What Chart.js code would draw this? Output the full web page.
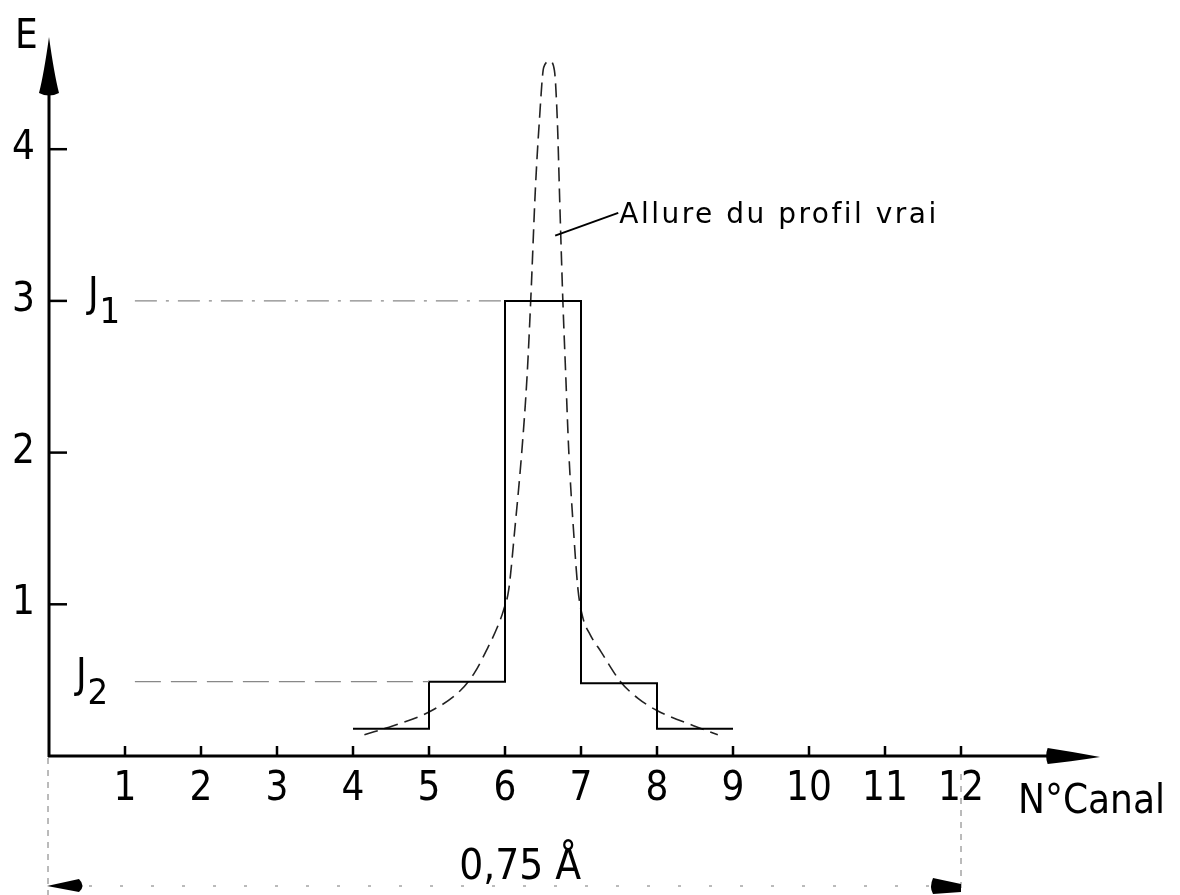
<!DOCTYPE html>
<html>
<head>
<meta charset="utf-8">
<script src="https://cdn.jsdelivr.net/npm/chart.js@4/dist/chart.umd.min.js"></script>
<style>
  html, body { margin: 0; padding: 0; background: #fff; }
  #wrap { width: 1180px; height: 895px; }
</style>
</head>
<body>
<div id="wrap"><canvas id="chart" width="1180" height="895"></canvas></div>
<script>
// axis ticks
const xTicks = [1, 2, 3, 4, 5, 6, 7, 8, 9, 10, 11, 12];
const yTicks = [1, 2, 3, 4];

// measured histogram (channel edges and heights)
const binEdges = [4, 5, 6, 7, 8, 9];
const binHeights = [0.18, 0.49, 3.0, 0.48, 0.18];

// "true" profile
const profileX = [4.15, 4.53, 5.0, 5.41, 5.6, 5.77, 5.9, 5.98, 6.05, 6.13, 6.22, 6.29, 6.34, 6.40, 6.45, 6.51,
  6.59, 6.65, 6.69, 6.72, 6.76, 6.80, 6.84, 6.90, 6.96, 7.02, 7.12, 7.26, 7.52, 7.75, 8.0, 8.48, 8.8];
const profileY = [0.14, 0.20, 0.29, 0.43, 0.55, 0.71, 0.85, 0.96, 1.1, 1.5, 2.0, 2.5, 3.02, 3.74, 4.17, 4.54,
  4.58, 4.52, 4.17, 3.66, 3.02, 2.5, 2.0, 1.5, 1.1, 0.92, 0.80, 0.69, 0.49, 0.38, 0.30, 0.20, 0.14];

// J levels
const levelNames = ['1', '2'];
const levelValues = [3.0, 0.49];
const levelStart = 1.13;
const levelEnds = [6, 5];

const FONT = '"DejaVu Sans Condensed", "DejaVu Sans", sans-serif';

const histData = binEdges.map((e, i) => ({ x: e, y: binHeights[Math.min(i, binHeights.length - 1)] }));
const profileData = profileX.map((v, i) => ({ x: v, y: profileY[i] }));

const drawing = {
  id: 'drawing',
  beforeDatasetsDraw(chart) {
    const { ctx } = chart;
    const x = chart.scales.x;
    const y = chart.scales.y;
    const x0 = x.getPixelForValue(0);
    const y0 = y.getPixelForValue(0);
    ctx.save();
    ctx.strokeStyle = '#000';
    ctx.fillStyle = '#000';
    ctx.lineCap = 'butt';

    // x axis with arrow
    ctx.lineWidth = 3;
    ctx.beginPath();
    ctx.moveTo(x0 - 1, y0);
    ctx.lineTo(x.getPixelForValue(13.3), y0);
    ctx.stroke();
    const xb = x.getPixelForValue(13.14);
    const xt = x.getPixelForValue(13.83);
    ctx.beginPath();
    ctx.moveTo(xb, y0 - 8);
    ctx.quadraticCurveTo(xb + 20, y0 - 5, xt, y0 + 1);
    ctx.quadraticCurveTo(xb + 20, y0 + 6, xb, y0 + 8);
    ctx.quadraticCurveTo(xb - 3, y0, xb, y0 - 8);
    ctx.fill();

    // y axis with arrow
    ctx.beginPath();
    ctx.moveTo(x0, y0 + 1);
    ctx.lineTo(x0, y.getPixelForValue(4.45));
    ctx.stroke();
    const yb = y.getPixelForValue(4.37);
    const yt = y.getPixelForValue(4.74);
    ctx.beginPath();
    ctx.moveTo(x0 - 10, yb);
    ctx.quadraticCurveTo(x0 - 5, yb - 20, x0, yt);
    ctx.quadraticCurveTo(x0 + 5, yb - 20, x0 + 10, yb);
    ctx.quadraticCurveTo(x0, yb + 5, x0 - 10, yb);
    ctx.fill();

    // ticks
    ctx.lineWidth = 2.5;
    xTicks.forEach(t => {
      const px = x.getPixelForValue(t);
      ctx.beginPath();
      ctx.moveTo(px, y0);
      ctx.lineTo(px, y0 - 10);
      ctx.stroke();
    });
    yTicks.forEach(t => {
      const py = y.getPixelForValue(t);
      ctx.beginPath();
      ctx.moveTo(x0, py);
      ctx.lineTo(x0 + 18, py);
      ctx.stroke();
    });

    // dimension line 0 .. 12 below the axis
    const x12 = x.getPixelForValue(12);
    const yd = y0 + 130;
    ctx.strokeStyle = '#777';
    ctx.lineWidth = 1;
    ctx.setLineDash([6, 6]);
    ctx.beginPath();
    ctx.moveTo(x0 - 1, y0 + 2);
    ctx.lineTo(x0 - 1, 895);
    ctx.moveTo(x12, y0 + 18);
    ctx.lineTo(x12, yd + 4);
    ctx.stroke();
    ctx.setLineDash([3, 28]);
    ctx.beginPath();
    ctx.moveTo(x0 + 40, yd);
    ctx.lineTo(x12 - 30, yd);
    ctx.stroke();
    ctx.setLineDash([]);
    ctx.fillStyle = '#000';
    ctx.beginPath();
    ctx.moveTo(x0 - 2, yd);
    ctx.lineTo(x0 + 30, yd - 7);
    ctx.quadraticCurveTo(x0 + 37, yd, x0 + 30, yd + 6);
    ctx.closePath();
    ctx.fill();
    ctx.beginPath();
    ctx.moveTo(x12, yd - 2);
    ctx.lineTo(x12 - 28, yd - 8);
    ctx.quadraticCurveTo(x12 - 32, yd + 1, x12 - 28, yd + 8);
    ctx.lineTo(x12, yd + 6);
    ctx.closePath();
    ctx.fill();
    ctx.restore();
  },
  afterDatasetsDraw(chart) {
    const { ctx } = chart;
    const x = chart.scales.x;
    const y = chart.scales.y;
    const x0 = x.getPixelForValue(0);
    const y0 = y.getPixelForValue(0);
    ctx.save();
    ctx.fillStyle = '#000';

    ctx.font = '40px ' + FONT;
    ctx.textBaseline = 'alphabetic';
    ctx.textAlign = 'center';
    xTicks.forEach(t => ctx.fillText(String(t), x.getPixelForValue(t), y0 + 44));
    ctx.textAlign = 'right';
    yTicks.forEach(t => ctx.fillText(String(t), x0 - 14, y.getPixelForValue(t) + 10));

    ctx.textAlign = 'left';
    ctx.fillText('E', 15, y.getPixelForValue(4.74) + 11);

    // J labels
    levelValues.forEach((v, i) => {
      const py = y.getPixelForValue(v);
      const left = i === 0 ? 88 : 76;
      ctx.font = '40px ' + FONT;
      ctx.fillText('J', left, py + 5);
      const w = ctx.measureText('J').width;
      ctx.font = '36px ' + FONT;
      ctx.fillText(levelNames[i], left + w + 1, py + 22);
    });

    // axis name
    ctx.font = '40px ' + FONT;
    ctx.fillText('N\u00b0Canal', 1018, y0 + 57);

    // width of the 12 channels
    ctx.font = '42px ' + FONT;
    ctx.textAlign = 'center';
    ctx.fillText('0,75 \u00c5', x.getPixelForValue(6.2), y0 + 123);

    // profile annotation with leader
    const ax = x.getPixelForValue(6.66);
    const ay = y.getPixelForValue(3.43);
    const bx = x.getPixelForValue(7.49);
    const by = y.getPixelForValue(3.58);
    ctx.strokeStyle = '#000';
    ctx.lineWidth = 2;
    ctx.beginPath();
    ctx.moveTo(ax, ay);
    ctx.lineTo(bx, by);
    ctx.stroke();
    ctx.font = '28px "DejaVu Sans", sans-serif';
    ctx.letterSpacing = '2.5px';
    ctx.textAlign = 'left';
    ctx.fillText('Allure du profil vrai', bx + 1, by + 10);
    ctx.restore();
  }
};

const levelSets = levelValues.map((v, i) => ({
  data: [{ x: levelStart, y: v }, { x: levelEnds[i], y: v }],
  showLine: true,
  borderColor: '#888',
  borderWidth: 1.2,
  borderDash: i === 0 ? [22, 9, 3, 9] : [26, 10],
  pointRadius: 0
}));

new Chart(document.getElementById('chart'), {
  type: 'scatter',
  data: {
    datasets: [
      ...levelSets,
      {
        data: histData,
        showLine: true,
        stepped: 'before',
        borderColor: '#000',
        borderWidth: 2,
        pointRadius: 0
      },
      {
        data: profileData,
        showLine: true,
        cubicInterpolationMode: 'monotone',
        borderColor: '#222',
        borderWidth: 1.6,
        borderDash: [14, 7],
        pointRadius: 0
      }
    ]
  },
  options: {
    responsive: false,
    animation: false,
    devicePixelRatio: 1,
    layout: { padding: { left: 49, right: 1180 - 49 - 14 * 76, top: 756 - 4.8 * 151.7, bottom: 895 - 756 } },
    scales: {
      x: { type: 'linear', min: 0, max: 14, display: false },
      y: { type: 'linear', min: 0, max: 4.8, display: false }
    },
    plugins: {
      legend: { display: false },
      tooltip: { enabled: false }
    }
  },
  plugins: [drawing]
});
</script>
</body>
</html>
